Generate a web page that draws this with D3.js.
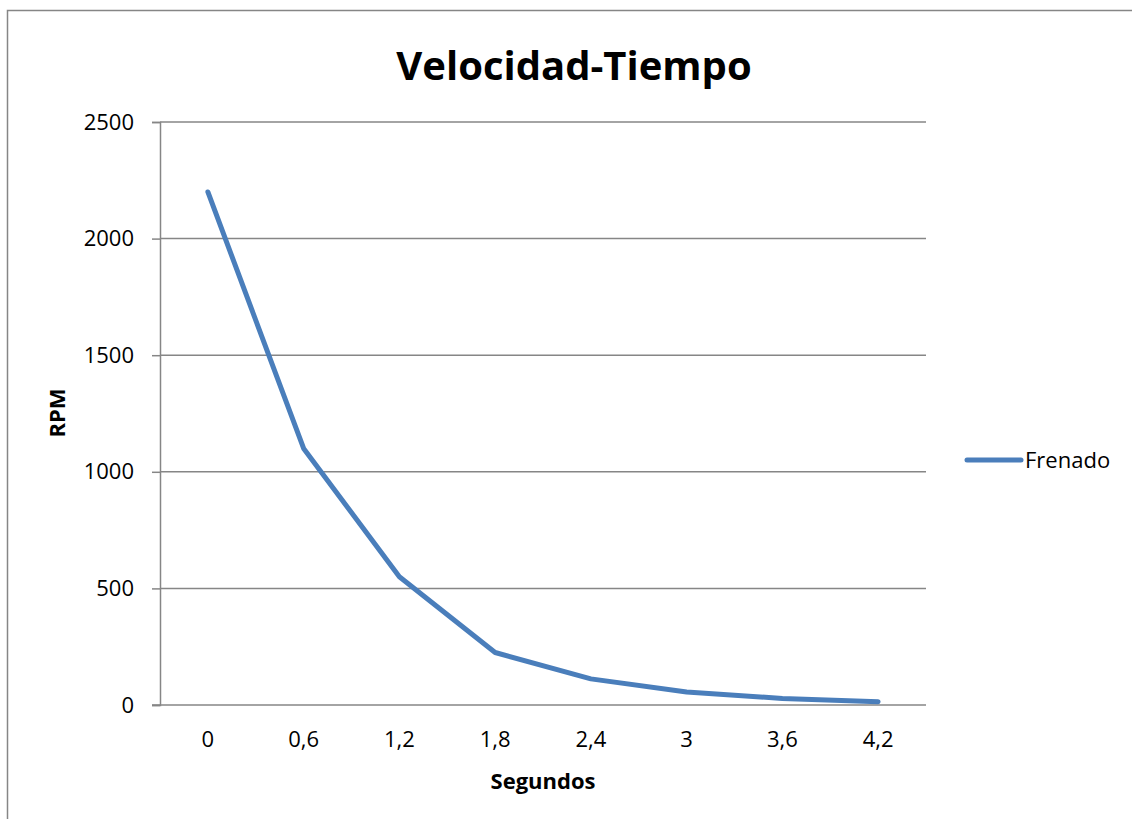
<!DOCTYPE html>
<html>
<head>
<meta charset="utf-8">
<script src="https://cdn.jsdelivr.net/npm/d3@7"></script>
<style>
  body { margin: 0; background: #fff; }
  text { font-family: "Open Sans", "Noto Sans", sans-serif; fill: #000; }
</style>
</head>
<body>
<script>
// Data
const seconds = ["0", "0,6", "1,2", "1,8", "2,4", "3", "3,6", "4,2"]
const rpm = [2200, 1100, 550, 225, 112, 56, 28, 14]
const yTicks = [0, 500, 1000, 1500, 2000, 2500]
const seriesName = "Frenado"

// Layout
const W = 1132, H = 819
const plot = { left: 160, right: 926, top: 122, bottom: 705 }
const gray = "#868686"
const blue = "#4a7ebb"

const svg = d3.select("body")
  .append("svg")
  .attr("width", W)
  .attr("height", H)

// Outer chart frame
svg.append("rect")
  .attr("x", 7.5)
  .attr("y", 10.5)
  .attr("width", 1140)
  .attr("height", 830)
  .attr("fill", "none")
  .attr("stroke", gray)
  .attr("stroke-width", 1.5)

// Scales
const xScale = d3.scaleBand()
  .domain(seconds)
  .range([plot.left, plot.right])

const yScale = d3.scaleLinear()
  .domain([0, 2500])
  .range([plot.bottom, plot.top])

// Gridlines
svg.append("g")
  .selectAll("line")
  .data(yTicks.filter(d => d > 0))
  .enter()
  .append("line")
  .attr("x1", plot.left)
  .attr("x2", plot.right)
  .attr("y1", d => yScale(d))
  .attr("y2", d => yScale(d))
  .attr("stroke", gray)
  .attr("stroke-width", 1.5)

// Y axis
const yAxis = d3.axisLeft(yScale)
  .tickValues(yTicks)
  .tickFormat(d3.format("d"))
  .tickSize(8)
  .tickPadding(18)
const gy = svg.append("g")
  .attr("transform", `translate(${plot.left}, 0)`)
  .call(yAxis)
gy.select(".domain").attr("stroke", gray).attr("stroke-width", 1.5)
gy.selectAll(".tick line").attr("stroke", gray).attr("stroke-width", 1.5)
gy.selectAll(".tick text").style("font-size", "22px").attr("fill", "#000")

// X axis
const xAxis = d3.axisBottom(xScale).tickSize(0).tickPadding(26)
const gx = svg.append("g")
  .attr("transform", `translate(0, ${plot.bottom})`)
  .call(xAxis)
gx.select(".domain").attr("stroke", gray).attr("stroke-width", 1.5)
  .attr("d", `M${plot.left - 8},0H${plot.right}`)
gx.selectAll(".tick text").style("font-size", "22px").attr("fill", "#000")

// Line
const line = d3.line()
  .x((d, i) => xScale(seconds[i]) + xScale.bandwidth() / 2)
  .y(d => yScale(d))

svg.append("path")
  .datum(rpm)
  .attr("d", line)
  .attr("fill", "none")
  .attr("stroke", blue)
  .attr("stroke-width", 5)
  .attr("stroke-linejoin", "round")
  .attr("stroke-linecap", "round")

// Title
svg.append("text")
  .attr("x", 574)
  .attr("y", 80)
  .attr("text-anchor", "middle")
  .style("font-size", "40px")
  .style("font-weight", "bold")
  .text("Velocidad-Tiempo")

// Axis titles
svg.append("text")
  .attr("x", 543)
  .attr("y", 789)
  .attr("text-anchor", "middle")
  .style("font-size", "22px")
  .style("font-weight", "bold")
  .text("Segundos")

svg.append("text")
  .attr("transform", `translate(65, 413) rotate(-90)`)
  .attr("text-anchor", "middle")
  .style("font-size", "22px")
  .style("font-weight", "bold")
  .text("RPM")

// Legend
const legend = svg.append("g").attr("transform", "translate(967, 460)")
legend.append("line")
  .attr("x1", 0)
  .attr("x2", 54)
  .attr("stroke", blue)
  .attr("stroke-width", 5)
  .attr("stroke-linecap", "round")
legend.append("text")
  .attr("x", 58)
  .attr("y", 8)
  .style("font-size", "22px")
  .text(seriesName)
</script>
</body>
</html>
